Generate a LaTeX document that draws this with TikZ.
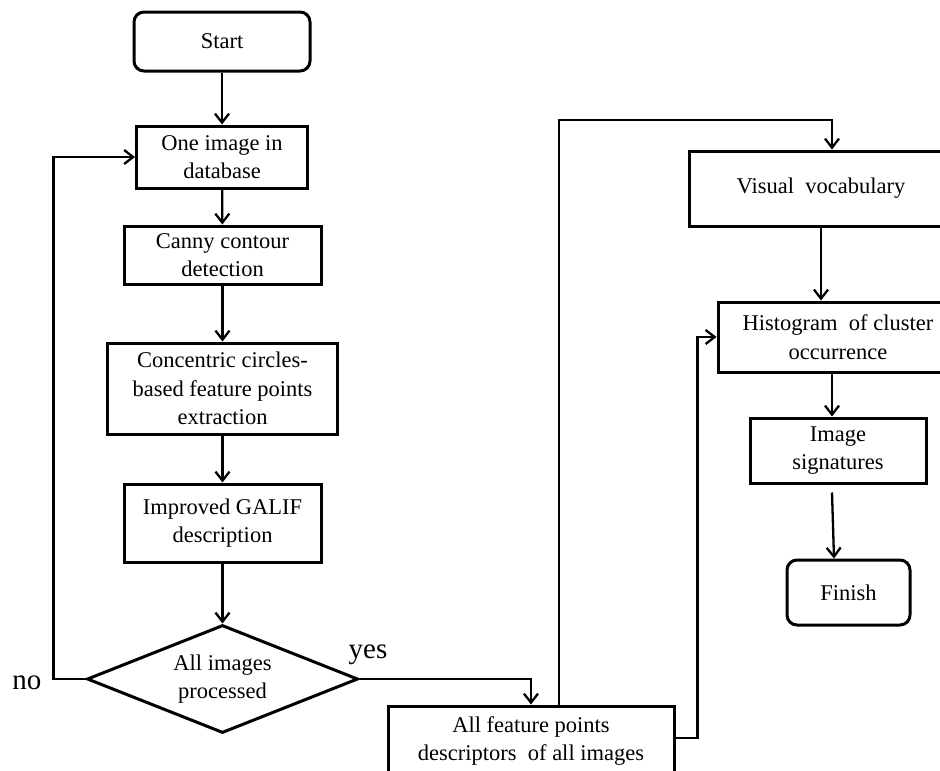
\documentclass[tikz,border=0pt]{standalone}
\usepackage{fontspec}
\setmainfont{Liberation Serif}
\usetikzlibrary{arrows.meta,shapes.geometric}
\begin{document}
\begin{tikzpicture}[x=1pt,y=-1pt,
  box/.style={draw,line width=3pt,inner sep=0pt,align=center,
    font=\fontsize{22.5}{28.5}\selectfont},
  rbox/.style={box,rounded corners=10pt},
  decision/.style={box,diamond,aspect=2.5},
  conn/.style={line width=2.3pt,-{Straight Barb[length=9pt,width=14pt]}},
  lbl/.style={inner sep=0pt,font=\fontsize{29}{30}\selectfont}
]
\clip (0,0) rectangle (940,771);
\fill[white] (0,0) rectangle (940,771);

% left column: per-image processing loop
\node[rbox,minimum width=176pt,minimum height=59pt] (start) at (222,41.5) {Start};
\node[box,minimum width=171pt,minimum height=62pt] (one) at (222,157) {One image in\\database};
\node[box,minimum width=197pt,minimum height=58pt] (canny) at (222.5,255) {Canny contour\\detection};
\node[box,minimum width=230pt,minimum height=91pt] (conc) at (222.5,388.5) {Concentric circles-\\based feature points\\extraction};
\node[box,minimum width=197pt,minimum height=78pt] (galif) at (222.5,523) {Improved GALIF\\description};
\node[decision,minimum width=271pt,minimum height=108pt] (done) at (222.5,679) {All images\\processed};

% bottom and right column: vocabulary and signatures
\node[box,minimum width=286pt,minimum height=70pt] (feat) at (531,741) {All feature points\\descriptors\ \ of all images};
\node[box,minimum width=264pt,minimum height=75pt] (vocab) at (821,188.5) {Visual\ \ vocabulary};
\node[box,minimum width=240pt,minimum height=70pt] (hist) at (838,337) {Histogram\ \ of cluster\\occurrence};
\node[box,minimum width=176pt,minimum height=65pt] (sig) at (838,450.5) {Image\\signatures};
\node[rbox,minimum width=123pt,minimum height=65pt] (fin) at (848.5,592.5) {Finish};

% branch labels
\node[lbl] (no) at (27,683) {no};
\node[lbl] (yes) at (368,655) {yes};

\coordinate (top) at (559,120);

% connectors
\draw[conn] (start.south -| one.north) -- (one.north);
\draw[conn] (one) -- (canny);
\draw[conn] (canny) -- (conc);
\draw[conn] (conc) -- (galif);
\draw[conn] (galif) -- (done);
\draw[conn] (done.west) -- ++(-32,0) |- (one.west);
\draw[conn] (done.east) -| (feat.north);
\draw[conn] (feat.north -| top) -- (top) -| ([xshift=11pt]vocab.north);
\draw[conn] (vocab.south) -- (vocab.south |- hist.north);
\draw[conn] ([yshift=3pt]feat.east) -- ++(22,0) |- (hist.west);
\draw[conn] ([xshift=-6pt]hist.south) -- ([xshift=-6pt]sig.north);
\draw[conn] ([xshift=-6pt,yshift=-8pt]sig.south) -- ([xshift=-14.5pt]fin.north);
\end{tikzpicture}
\end{document}
